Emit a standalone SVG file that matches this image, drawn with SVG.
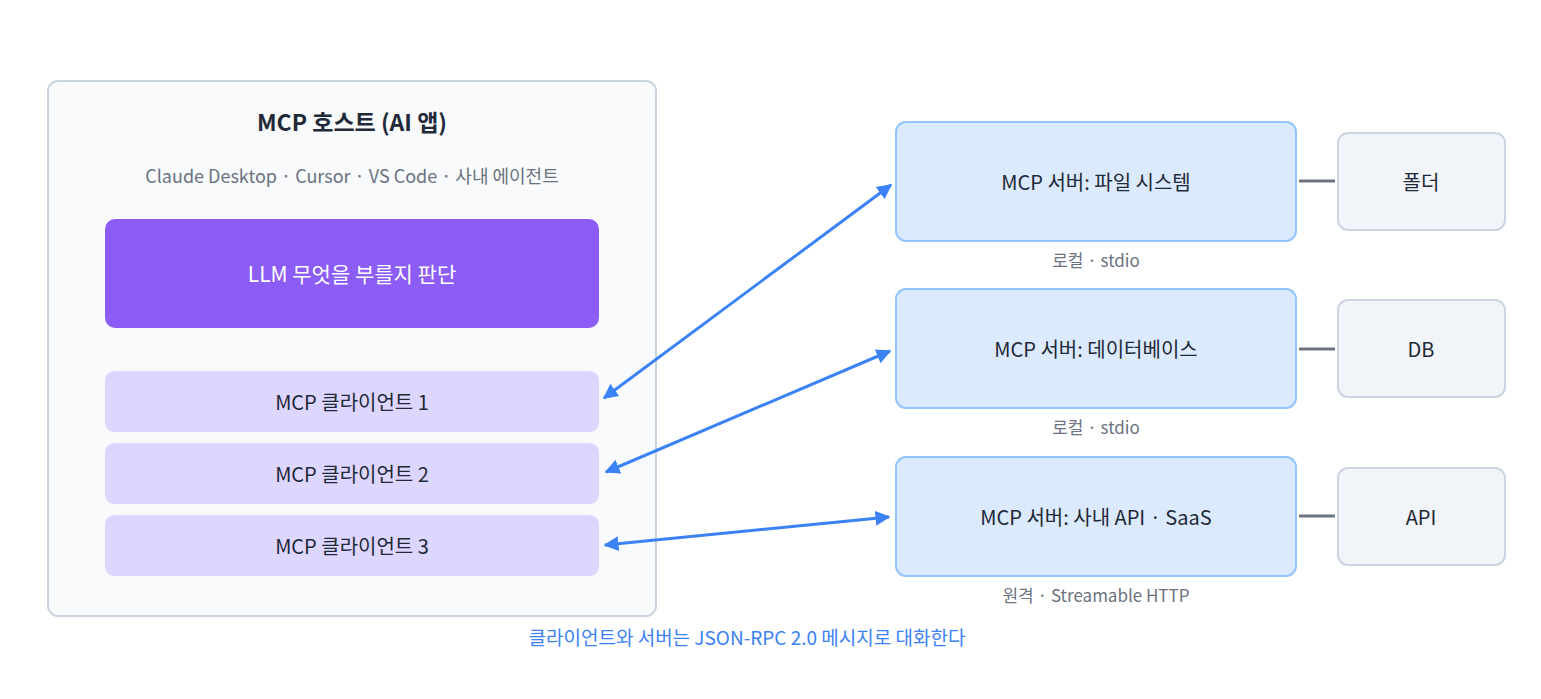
<svg xmlns="http://www.w3.org/2000/svg" width="1541" height="699" viewBox="0 0 1541 699">
<style>
text{font-family:"Noto Sans CJK KR","Noto Sans",sans-serif;text-anchor:middle;dominant-baseline:central}
.t{font-size:20px;fill:#1f2937}
.s{font-size:17px;fill:#6b7280}
.cl{fill:#ddd6fe}
.sv{fill:#dbeafe;stroke:#93c5fd;stroke-width:2}
.rs{fill:#f1f5f9;stroke:#cbd5e1;stroke-width:2}
.ar{stroke:#3b82f6;stroke-width:3;fill:none;marker-start:url(#a);marker-end:url(#a)}
.ln{stroke:#6b7280;stroke-width:3}
</style>
<defs><marker id="a" viewBox="0 0 10 10" refX="9" refY="5" markerWidth="5" markerHeight="5" orient="auto-start-reverse" markerUnits="strokeWidth"><path d="M0,0L10,5L0,10z" fill="#3b82f6"/></marker></defs>
<rect width="1541" height="699" fill="#fff"/>
<g id="host">
<rect x="48" y="81" width="608" height="535" rx="10" fill="#f8fafc" stroke="#cbd5e1" stroke-width="2"/>
<text x="352" y="121" style="font-size:23px;font-weight:bold;fill:#1f2937">MCP 호스트 (AI 앱)</text>
<text x="352" y="175" class="s" style="font-size:18px">Claude Desktop · Cursor · VS Code · 사내 에이전트</text>
</g>
<g id="llm"><rect x="105" y="219" width="494" height="109" rx="10" fill="#8b5cf6"/><text x="352" y="273" style="font-size:21px;fill:#fff">LLM  무엇을 부를지 판단</text></g>
<g id="c1"><rect x="105" y="371" width="494" height="61" rx="9" class="cl"/><text x="352" y="401" class="t">MCP 클라이언트 1</text></g>
<g id="c2"><rect x="105" y="443" width="494" height="61" rx="9" class="cl"/><text x="352" y="473" class="t">MCP 클라이언트 2</text></g>
<g id="c3"><rect x="105" y="515" width="494" height="61" rx="9" class="cl"/><text x="352" y="545" class="t">MCP 클라이언트 3</text></g>
<g id="s1"><rect x="896" y="122" width="400" height="119" rx="10" class="sv"/><text x="1096" y="181" class="t">MCP 서버: 파일 시스템</text><text x="1096" y="259" class="s">로컬 · stdio</text></g>
<g id="s2"><rect x="896" y="289" width="400" height="119" rx="10" class="sv"/><text x="1096" y="348" class="t">MCP 서버: 데이터베이스</text><text x="1096" y="426" class="s">로컬 · stdio</text></g>
<g id="s3"><rect x="896" y="457" width="400" height="119" rx="10" class="sv"/><text x="1096" y="516" class="t">MCP 서버: 사내 API · SaaS</text><text x="1096" y="594" class="s">원격 · Streamable HTTP</text></g>
<g id="r1"><rect x="1338" y="133" width="167" height="97" rx="10" class="rs"/><text x="1421" y="181" class="t">폴더</text></g>
<g id="r2"><rect x="1338" y="300" width="167" height="97" rx="10" class="rs"/><text x="1421" y="348" class="t">DB</text></g>
<g id="r3"><rect x="1338" y="468" width="167" height="97" rx="10" class="rs"/><text x="1421" y="516" class="t">API</text></g>
<g id="connectors">
<line class="ar" x1="604" y1="398" x2="891" y2="185"/>
<line class="ar" x1="606" y1="472" x2="890" y2="351"/>
<line class="ar" x1="605" y1="545" x2="889" y2="517"/>
<line class="ln" x1="1299" y1="181" x2="1335" y2="181"/>
<line class="ln" x1="1299" y1="349" x2="1335" y2="349"/>
<line class="ln" x1="1299" y1="516" x2="1335" y2="516"/>
</g>
<text x="747" y="636" style="font-size:19px;fill:#3b82f6">클라이언트와 서버는 JSON-RPC 2.0 메시지로 대화한다</text>
</svg>
